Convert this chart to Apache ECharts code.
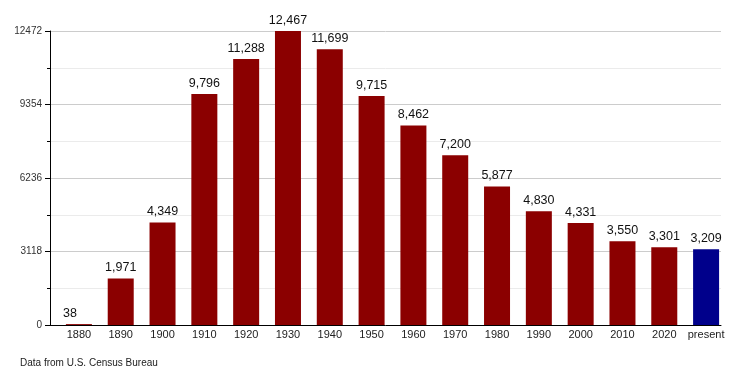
<!DOCTYPE html>
<html><head><meta charset="utf-8">
<script src="https://cdn.jsdelivr.net/npm/echarts@6/dist/echarts.min.js"></script>
<style>html,body{margin:0;padding:0;background:#fff}#c{width:750px;height:375px}</style>
</head><body><div id="c"></div>
<script>
const categories = ['1880','1890','1900','1910','1920','1930','1940','1950','1960','1970','1980','1990','2000','2010','2020','present'];
const values = [38,1971,4349,9796,11288,12467,11699,9715,8462,7200,5877,4830,4331,3550,3301,3209];
const yTicks = [0,3118,6236,9354,12472];

const FONT = 'Liberation Sans, Arial, sans-serif';
const chart = echarts.init(document.getElementById('c'), null, {renderer:'canvas'});
const yMax = yTicks[yTicks.length-1];
const yStep = yTicks[1]-yTicks[0];

chart.setOption({
  animation:false,
  textStyle:{fontFamily:FONT},
  grid:[
    {left:50, right:29, top:31, bottom:50},
    {left:58, right:23, top:31, bottom:50}
  ],
  xAxis:[
    {gridIndex:0, type:'category', data:categories, axisLine:{lineStyle:{color:'#000',width:1}}, axisTick:{show:false}, axisLabel:{show:false}, splitLine:{show:false}},
    {gridIndex:1, type:'category', data:categories, axisLine:{show:false}, axisTick:{show:false},
     axisLabel:{color:'#222', fontSize:11, fontFamily:FONT, margin:4, interval:0}}
  ],
  yAxis:[
    {gridIndex:0, type:'value', min:0, max:yMax, interval:yStep,
     axisLine:{show:true, lineStyle:{color:'#000',width:1}},
     axisTick:{show:true, length:5, lineStyle:{color:'#000'}},
     minorTick:{show:true, splitNumber:2, length:3, lineStyle:{color:'#000'}},
     splitLine:{show:true, lineStyle:{color:'#cccccc',width:1}},
     minorSplitLine:{show:true, lineStyle:{color:'#ebebeb',width:1}},
     axisLabel:{color:'#333', fontSize:10, fontFamily:FONT, margin:8, formatter:v=>String(v)}},
    {gridIndex:1, type:'value', min:0, max:yMax, show:false}
  ],
  series:[{
    type:'bar', xAxisIndex:1, yAxisIndex:1, barWidth:26,
    data: values.map((v,i)=>{
      const item = {value:v, itemStyle:{color: i===values.length-1 ? '#00008b' : '#8b0000'}};
      if(i===0) item.label = {offset:[-9,0]};
      return item;
    }),
    label:{show:true, position:'top', distance:4, color:'#111', fontSize:12.5, fontFamily:FONT,
      formatter:p=>p.value.toLocaleString('en-US')}
  }],
  graphic:[{type:'text', left:20, top:358, style:{text:'Data from U.S. Census Bureau', fill:'#222', font:'10px '+FONT}}]
});
</script></body></html>
